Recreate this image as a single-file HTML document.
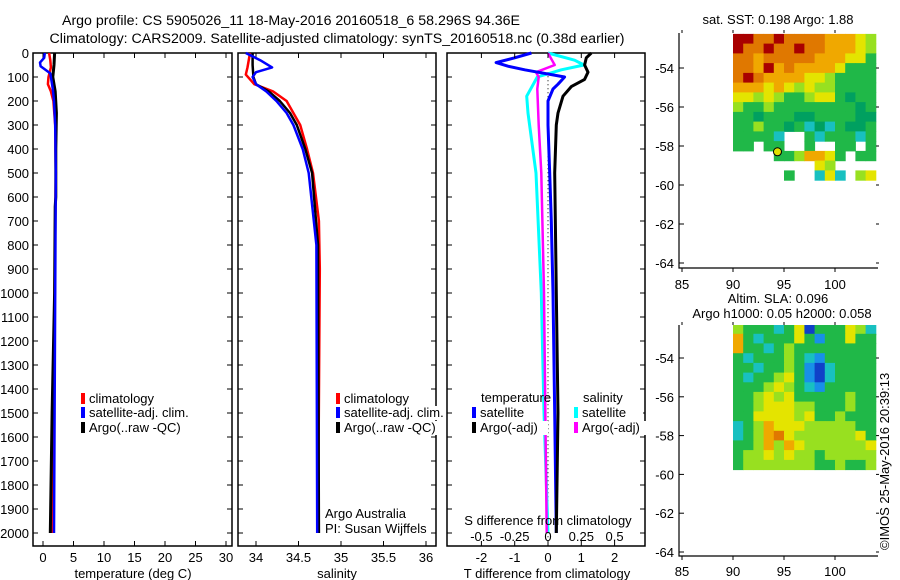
<!DOCTYPE html>
<html><head><meta charset="utf-8"><style>
html,body{margin:0;padding:0;background:#fff}
svg{display:block;font-family:"Liberation Sans",sans-serif}
text{font-size:13px;fill:#000}
.tt{font-size:14.2px}
</style></head><body>
<svg id="c" width="900" height="580" viewBox="0 0 900 580">
<text class="tt" x="291" y="25" text-anchor="middle">Argo profile: CS 5905026_11 18-May-2016 20160518_6 58.296S 94.36E</text>
<text class="tt" x="337" y="43" text-anchor="middle">Climatology: CARS2009. Satellite-adjusted climatology: synTS_20160518.nc (0.38d earlier)</text>
<text x="778" y="24" text-anchor="middle">sat. SST: 0.198 Argo: 1.88</text>
<text x="778" y="303" text-anchor="middle">Altim. SLA: 0.096</text>
<text x="782" y="318" text-anchor="middle">Argo h1000: 0.05 h2000: 0.058</text>
<text transform="translate(889,550) rotate(-90)">©IMOS 25-May-2016 20:39:13</text>
<g id="g"></g>
</svg>
<script>
// ---- data ----
const depthTicks=[0,100,200,300,400,500,600,700,800,900,1000,1100,1200,1300,1400,1500,1600,1700,1800,1900,2000];
const tempTicks=[0,5,10,15,20,25,30];
const salTicks=[34,34.5,35,35.5,36];
const salTickLabels=["34","34.5","35","35.5","36"];
const tdiffTicks=[-2,-1,0,1,2];
const sdiffTicks=[-0.5,-0.25,0,0.25,0.5];
const sdiffTickLabels=["-0.5","-0.25","0","0.25","0.5"];
const latTicks=[-54,-56,-58,-60,-62,-64];
const lonTicks=[85,90,95,100];

const tClimDepth=[0,30,60,100,130,160,200,300,500,700,1000,1500,2000];
const tClimVal=[1.0,1.2,1.3,0.9,0.8,1.3,1.7,2.0,2.1,2.0,1.9,1.7,1.5];
const tSatDepth=[0,20,40,55,70,85,100,150,200,300,500,1000,1500,2000];
const tSatVal=[0.3,0.2,-0.5,-0.4,0.4,1.2,1.3,1.6,1.8,2.0,2.1,2.0,1.9,1.8];
const tArgoDepth=[0,50,100,130,160,250,400,600,640,1000,1500,2000];
const tArgoVal=[1.9,1.8,1.6,1.8,2.0,2.2,2.1,2.1,2.0,1.9,1.5,1.2];

const sClimDepth=[0,60,90,130,160,200,250,300,400,500,700,900,2000];
const sClimVal=[33.93,33.9,33.88,33.98,34.2,34.36,34.44,34.52,34.6,34.67,34.74,34.75,34.73];
const sSatDepth=[0,30,60,80,100,130,160,200,250,300,400,500,800,2000];
const sSatVal=[33.88,34.05,34.19,34.0,33.96,34.0,34.12,34.24,34.36,34.44,34.55,34.62,34.71,34.72];
const sArgoDepth=[0,50,100,130,160,200,250,300,400,500,800,2000];
const sArgoVal=[33.96,33.96,33.97,34.0,34.15,34.28,34.4,34.48,34.58,34.66,34.73,34.74];

const dtSatDepth=[0,20,40,55,70,100,130,150,200,300,500,700,1000,1500,2000];
const dtSatVal=[-0.5,-1.0,-1.56,-1.2,-0.7,0.5,0.3,0.15,0.0,0.0,0.05,0.1,0.15,0.2,0.25];
const dtArgoDepth=[0,20,50,80,110,140,180,250,300,500,1000,1500,2000];
const dtArgoVal=[1.3,1.15,1.1,1.2,1.1,0.7,0.45,0.3,0.25,0.2,0.25,0.3,0.25];
const dsSatDepth=[0,30,50,70,100,180,250,500,1000,1500,2000];
const dsSatVal=[0.0,0.2,0.27,0.1,-0.08,-0.16,-0.15,-0.09,-0.05,-0.03,0.0];
const dsArgoDepth=[0,30,50,80,100,150,300,500,1000,2000];
const dsArgoVal=[0.0,0.03,0.05,-0.09,-0.07,-0.08,-0.07,-0.05,-0.03,-0.01];

// SST grid: lon 90..104 (1 deg), lat -52.5..-60 by 0.5 (top to bottom)
const sstRows=[
"rroorooooOOOyl","rooroorooOOOyl","ooOoooooOOOyyg","ooOrOoOOOOyggg",
"oroOOOOyylgggg","OOOyOylyllgggg","yylylgglyygGgg","lgglggggggggGg",
"ggGgggGGggggGG","gglggGgcGcgGGg","ggggc..gcgggcg","gg.gg..g..gg.g",
"....gglOOyg.gg","........yl....",".....g..cyc.ly"];
// SLA grid
const slaRows=[
"lgggcgyBgggylc","Ogcgggygbggygg","Oggcglgggggggg","gcggglgcbggggg",
"ggcgglgbBcgggg","gcgglygbBcgggg","ggglylgcbggggg","gglylyggggglgg",
"gglyyyllggglgg","ggyyyylygglggg","cglOyyylllllgg","cglOoyllllllyg",
"gglOlOylllllly","gllylyllglllll","glllllllgglggl"];
const palette={r:"#a80000",o:"#e07800",O:"#f0a800",y:"#e4e400",l:"#98e020",g:"#20b848",G:"#00a060",c:"#18c0c0",b:"#1890e8",B:"#1040c8"};

// ---- helpers ----
const NS="http://www.w3.org/2000/svg";
const G=document.getElementById('g');
function mk(tag,attrs,parent){const e=document.createElementNS(NS,tag);for(const k in attrs)e.setAttribute(k,attrs[k]);(parent||G).appendChild(e);return e;}
const Y0=53,PY=0.24;
const yD=d=>Y0+d*PY;
const PB=546;
const xT=t=>43+t*6.1;
const xS=s=>256+(s-34)*85;
const xDT=t=>548+t*33.3;
const xDS=s=>548+s*133.2;

function frame(x1,x2,name){
  const r=mk('rect',{x:x1,y:Y0,width:x2-x1,height:PB-Y0,fill:'none',stroke:'#000','stroke-width':1.5});
  
  
  depthTicks.forEach(d=>{mk('line',{x1:x1,x2:x1+5,y1:yD(d),y2:yD(d),stroke:'#000'});mk('line',{x1:x2-5,x2:x2,y1:yD(d),y2:yD(d),stroke:'#000'});});
}
function line(dep,val,xf,color,w,name){
  const pts=dep.map((d,i)=>xf(val[i]).toFixed(1)+','+yD(d).toFixed(1)).join(' ');
  const p=mk('polyline',{points:pts,fill:'none',stroke:color,'stroke-width':w,'stroke-linejoin':'round'});
  
  
}
function txt(x,y,s,anchor,name,size){
  const t=mk('text',{x:x,y:y,'text-anchor':anchor||'start'});
  if(size)t.style.fontSize=size+'px';
  t.textContent=s;
  
  
  return t;
}
function legend(x,y,color,label,name){
  const r=mk('rect',{x:x,y:y-10,width:4,height:11,fill:color});
  
  
  mk('rect',{x:x+6,y:y-11,width:label.length*7,height:14,fill:'#fff'});
  txt(x+8,y,label,'start',name);
}

// ---- panel 1: temperature ----
frame(33,232,'temperature-panel');
depthTicks.forEach(d=>txt(29,yD(d)+5,String(d),'end','depth-tick-label'));
tempTicks.forEach(t=>{mk('line',{x1:xT(t),x2:xT(t),y1:PB,y2:PB-5,stroke:'#000'});mk('line',{x1:xT(t),x2:xT(t),y1:Y0,y2:Y0+5,stroke:'#000'});txt(xT(t),562,String(t),'middle','temperature-tick-label');});
txt(133,578,'temperature (deg C)','middle','temperature-axis-title');
line(tClimDepth,tClimVal,xT,'#f00',2.5,'temp-climatology-line');
line(tArgoDepth,tArgoVal,xT,'#000',3,'temp-argo-line');
line(tSatDepth,tSatVal,xT,'#00f',2.5,'temp-satellite-line');
legend(81,403,'#f00','climatology','legend-climatology');
legend(81,417,'#00f','satellite-adj. clim.','legend-satellite-adj');
legend(81,432,'#000','Argo(..raw -QC)','legend-argo');

// ---- panel 2: salinity ----
frame(238,436,'salinity-panel');
salTicks.forEach((s,i)=>{mk('line',{x1:xS(s),x2:xS(s),y1:PB,y2:PB-5,stroke:'#000'});mk('line',{x1:xS(s),x2:xS(s),y1:Y0,y2:Y0+5,stroke:'#000'});txt(xS(s),562,salTickLabels[i],'middle','salinity-tick-label');});
txt(337,578,'salinity','middle','salinity-axis-title');
line(sClimDepth,sClimVal,xS,'#f00',2.5,'sal-climatology-line');
line(sArgoDepth,sArgoVal,xS,'#000',2.5,'sal-argo-line');
line(sSatDepth,sSatVal,xS,'#00f',2.5,'sal-satellite-line');
legend(336,403,'#f00','climatology','legend-climatology-2');
legend(336,417,'#00f','satellite-adj. clim.','legend-satellite-adj-2');
legend(336,432,'#000','Argo(..raw -QC)','legend-argo-2');
txt(325,518,'Argo Australia','start','argo-australia-label');
txt(325,533,'PI: Susan Wijffels','start','pi-label');

// ---- panel 3: differences ----
frame(447,645,'difference-panel');
mk('line',{x1:548,x2:548,y1:yD(80),y2:PB,stroke:'#000','stroke-dasharray':'1,3'});
line(dsSatDepth,dsSatVal,xDS,'#0ff',3,'sdiff-satellite-line');
line(dsArgoDepth,dsArgoVal,xDS,'#f0f',2.5,'sdiff-argo-line');
line(dtSatDepth,dtSatVal,xDT,'#00f',3,'tdiff-satellite-line');
line(dtArgoDepth,dtArgoVal,xDT,'#000',3,'tdiff-argo-line');
tdiffTicks.forEach(t=>{mk('line',{x1:xDT(t),x2:xDT(t),y1:PB,y2:PB-5,stroke:'#000'});mk('line',{x1:xDT(t),x2:xDT(t),y1:Y0,y2:Y0+5,stroke:'#000'});txt(xDT(t),562,String(t),'middle','tdiff-tick-label');});
txt(547,578,'T difference from climatology','middle','tdiff-axis-title');
txt(548,525,'S difference from climatology','middle','sdiff-axis-title');
sdiffTicks.forEach((s,i)=>txt(xDS(s),541,sdiffTickLabels[i],'middle','sdiff-tick-label'));
txt(481,402,'temperature','start','legend-temperature-header');
txt(583,402,'salinity','start','legend-salinity-header');
legend(472,417,'#00f','satellite','legend-t-satellite');
legend(472,432,'#000','Argo(-adj)','legend-t-argo');
legend(574,417,'#0ff','satellite','legend-s-satellite');
legend(574,432,'#f0f','Argo(-adj)','legend-s-argo');

// ---- maps ----
function map(top,bottom,latAt54,pxLat,rows,name,labelY){
  const xL=lon=>682+(lon-85)*10.2;
  const yL=lat=>latAt54+(-54-lat)*pxLat;
  const cw=xL(91)-xL(90), ch=pxLat*0.5;
  const yStart=yL(-52.25);
  rows.forEach((row,r)=>{for(let c=0;c<row.length;c++){const k=row[c];if(palette[k]){
    const cell=mk('rect',{x:xL(90+c).toFixed(1),y:(Math.max(top,yStart+r*ch)).toFixed(1),width:(cw+0.5).toFixed(1),height:(ch+0.5).toFixed(1),fill:palette[k]});
    
    }}});
  const ax=mk('path',{d:`M679,${top} V${bottom} H878`,fill:'none',stroke:'#000','stroke-width':1.2});
  
  
  latTicks.forEach(l=>{mk('line',{x1:679,x2:684,y1:yL(l),y2:yL(l),stroke:'#000'});mk('line',{x1:876,x2:879,y1:yL(l),y2:yL(l),stroke:'#000'});txt(674,yL(l)+5,String(l),'end',name+'-lat-label');});
  lonTicks.forEach(l=>{mk('line',{x1:xL(l),x2:xL(l),y1:bottom,y2:bottom+4,stroke:'#000'});mk('line',{x1:xL(l),x2:xL(l),y1:top-3,y2:top,stroke:'#000'});txt(xL(l),labelY,String(l),'middle',name+'-lon-label');});
}
map(33,268,68,19.5,sstRows,'sst-map',289);
mk('circle',{cx:686+(94.36-85)*10.2-4,cy:68+(58.296-54)*19.5,r:4,fill:'#e0e000',stroke:'#000'});
map(325,556,358,19.4,slaRows,'sla-map',576);
</script>
</body></html>
